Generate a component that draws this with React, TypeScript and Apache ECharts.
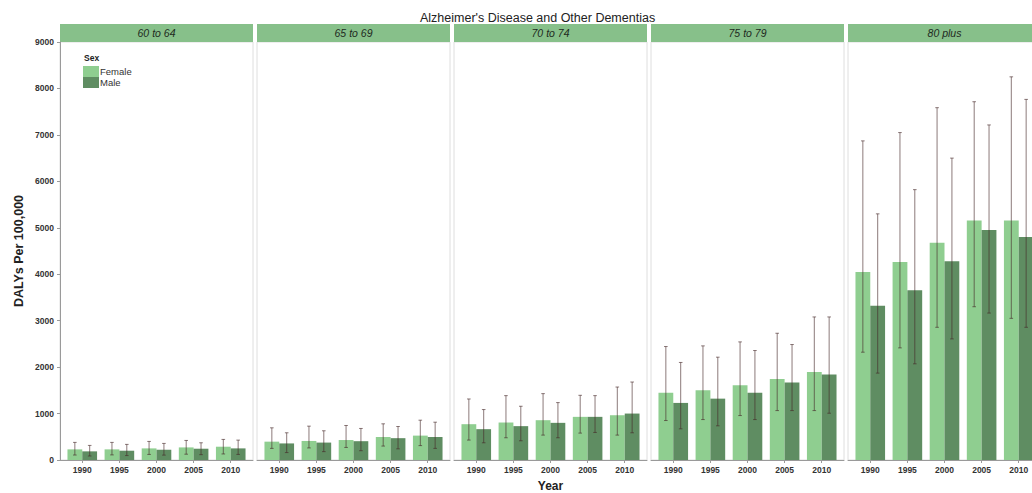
import { useRef, useEffect } from 'react';
import * as echarts from 'echarts';

const years = ['1990', '1995', '2000', '2005', '2010'];
const ageGroups = ['60 to 64', '65 to 69', '70 to 74', '75 to 79', '80 plus'];
const sexes = ['Female', 'Male'];

// mean DALYs per 100,000, one row per age group
const femaleMean = [
    [229, 229, 250, 271, 286],
    [395, 410, 430, 495, 525],
    [771, 807, 857, 929, 964],
    [1450, 1500, 1607, 1743, 1893],
    [4050, 4264, 4679, 5157, 5157],
];
const maleMean = [
    [186, 200, 221, 243, 250],
    [357, 375, 405, 470, 495],
    [664, 729, 800, 929, 1000],
    [1229, 1321, 1450, 1671, 1843],
    [3321, 3657, 4279, 4950, 4800],
];
const femaleUpper = [
    [379, 379, 400, 421, 443],
    [693, 729, 743, 779, 857],
    [1314, 1386, 1429, 1393, 1571],
    [2443, 2457, 2543, 2729, 3080],
    [6871, 7050, 7586, 7714, 8250],
];
const maleUpper = [
    [314, 336, 357, 371, 428],
    [586, 629, 679, 721, 814],
    [1086, 1157, 1236, 1386, 1679],
    [2100, 2214, 2357, 2486, 3080],
    [5300, 5821, 6500, 7214, 7764],
];
const femaleLower = [
    [107, 110, 120, 125, 130],
    [250, 260, 270, 300, 310],
    [429, 479, 536, 579, 536],
    [850, 871, 957, 1064, 1064],
    [2321, 2414, 2857, 3300, 3050],
];
const maleLower = [
    [86, 95, 105, 115, 120],
    [160, 180, 200, 240, 250],
    [371, 414, 479, 593, 586],
    [671, 736, 871, 1064, 1007],
    [1871, 2071, 2607, 3164, 2857],
];

const FONT = '"Liberation Sans", Arial, sans-serif';
const FEMALE_COLOR = '#8fce90';
const MALE_COLOR = '#5f8d62';
const STRIP_COLOR = '#87c08a';
const ERR_COLOR = 'rgba(70, 40, 40, 0.62)';

const PANEL_LEFT = 60;
const PANEL_STEP = 197;
const PANEL_W = 193;
const PANEL_TOP = 42;
const PANEL_H = 418;
const DODGE = 0.2;

const makeErrorBar = (offset: number) => (_params: any, api: any) => {
    const x = api.value(0) + offset;
    const top = api.coord([x, api.value(2)]);
    const bot = api.coord([x, api.value(1)]);
    const cap = 1.8;
    const style = { stroke: ERR_COLOR, lineWidth: 1 };
    return {
        type: 'group',
        children: [
            { type: 'line', shape: { x1: top[0], y1: top[1], x2: bot[0], y2: bot[1] }, style },
            { type: 'line', shape: { x1: top[0] - cap, y1: top[1], x2: top[0] + cap, y2: top[1] }, style },
            { type: 'line', shape: { x1: bot[0] - cap, y1: bot[1], x2: bot[0] + cap, y2: bot[1] }, style },
        ],
    };
};

const App: React.FC = () => {
    const chartRef = useRef<HTMLDivElement>(null);

    useEffect(() => {
        if (!chartRef.current) return;
        const chart = echarts.init(chartRef.current, null, { renderer: 'svg' });
        const positions = years.map((_, j) => j + 1);

        const grids: any[] = [];
        const xAxes: any[] = [];
        const yAxes: any[] = [];
        const series: any[] = [];
        const graphics: any[] = [];

        ageGroups.forEach((group, i) => {
            const left = PANEL_LEFT + i * PANEL_STEP;
            grids.push({
                left,
                top: PANEL_TOP,
                width: PANEL_W,
                height: PANEL_H,
                outerBoundsMode: 'none',
                containLabel: false,
                show: true,
                borderColor: '#dedede',
                borderWidth: 1,
                backgroundColor: '#fff',
            });
            xAxes.push({
                type: 'value',
                gridIndex: i,
                min: 0.4,
                max: 5.6,
                splitLine: { show: false },
                axisLine: { show: true, onZero: false, lineStyle: { color: '#9a9a9a', width: 1 } },
                axisTick: { show: true, customValues: positions, length: 3, lineStyle: { color: '#9a9a9a' } },
                axisLabel: {
                    customValues: positions,
                    formatter: (v: number) => years[Math.round(v) - 1] ?? '',
                    fontFamily: FONT,
                    fontSize: 8.5,
                    fontWeight: 'bold',
                    color: '#333',
                    margin: 5,
                },
                name: i === 2 ? 'Year' : '',
                nameLocation: 'middle',
                nameGap: 20,
                nameTextStyle: { fontFamily: FONT, fontSize: 12, fontWeight: 'bold', color: '#222' },
            });
            yAxes.push({
                type: 'value',
                gridIndex: i,
                min: 0,
                max: 9000,
                interval: 1000,
                show: i === 0,
                splitLine: { show: false },
                axisLine: { show: true, onZero: false, lineStyle: { color: '#9a9a9a', width: 1 } },
                axisTick: { show: true, length: 3, lineStyle: { color: '#9a9a9a' } },
                axisLabel: {
                    formatter: (v: number) => String(v),
                    fontFamily: FONT,
                    fontSize: 8.5,
                    fontWeight: 'bold',
                    color: '#333',
                    margin: 6,
                },
                name: 'DALYs Per 100,000',
                nameLocation: 'middle',
                nameRotate: 90,
                nameGap: 35,
                nameTextStyle: { fontFamily: FONT, fontSize: 12.5, fontWeight: 'bold', color: '#222' },
            });

            series.push({
                type: 'bar',
                name: 'Female',
                xAxisIndex: i,
                yAxisIndex: i,
                barWidth: 14.8,
                barGap: '0%',
                itemStyle: { color: FEMALE_COLOR },
                data: positions.map((p, j) => [p, femaleMean[i][j]]),
            });
            series.push({
                type: 'bar',
                name: 'Male',
                xAxisIndex: i,
                yAxisIndex: i,
                barWidth: 14.8,
                barGap: '0%',
                itemStyle: { color: MALE_COLOR },
                data: positions.map((p, j) => [p, maleMean[i][j]]),
            });
            series.push({
                type: 'custom',
                xAxisIndex: i,
                yAxisIndex: i,
                z: 5,
                renderItem: makeErrorBar(-DODGE),
                encode: { x: 0, y: [1, 2] },
                data: positions.map((p, j) => [p, femaleLower[i][j], femaleUpper[i][j]]),
            });
            series.push({
                type: 'custom',
                xAxisIndex: i,
                yAxisIndex: i,
                z: 5,
                renderItem: makeErrorBar(DODGE),
                encode: { x: 0, y: [1, 2] },
                data: positions.map((p, j) => [p, maleLower[i][j], maleUpper[i][j]]),
            });

            // facet strip
            graphics.push({
                type: 'rect',
                shape: { x: left, y: 24, width: PANEL_W, height: 18 },
                style: { fill: STRIP_COLOR },
            });
            graphics.push({
                type: 'text',
                x: left + PANEL_W / 2,
                y: 33,
                style: {
                    text: group,
                    fontFamily: FONT,
                    fontSize: 10.5,
                    fontStyle: 'italic',
                    fill: '#1e2a1e',
                    align: 'center',
                    verticalAlign: 'middle',
                },
            });
        });

        graphics.push({
            type: 'text',
            x: 84,
            y: 53,
            style: { text: 'Sex', fontFamily: FONT, fontSize: 8.5, fontWeight: 'bold', fill: '#222' },
        });

        const option: echarts.EChartsOption = {
            animation: false,
            backgroundColor: '#fff',
            title: {
                text: "Alzheimer's Disease and Other Dementias",
                left: 415,
                top: 6,
                textStyle: { fontFamily: FONT, fontSize: 12.5, fontWeight: 'normal', color: '#222' },
            },
            legend: {
                data: sexes,
                orient: 'vertical',
                left: 83,
                top: 66,
                padding: 0,
                itemWidth: 16,
                itemHeight: 11,
                itemGap: 0,
                icon: 'rect',
                textStyle: { fontFamily: FONT, fontSize: 9.5, color: '#333', padding: [0, 0, 0, -4] },
            },
            grid: grids,
            xAxis: xAxes,
            yAxis: yAxes,
            series,
            graphic: graphics,
        };

        chart.setOption(option);

        return () => {
            chart.dispose();
        };
    }, []);

    return (
        <div
            ref={chartRef}
            style={{ position: 'fixed', left: 0, top: 0, width: '1032px', height: '493px', background: '#fff' }}
        />
    );
};

export default App;
